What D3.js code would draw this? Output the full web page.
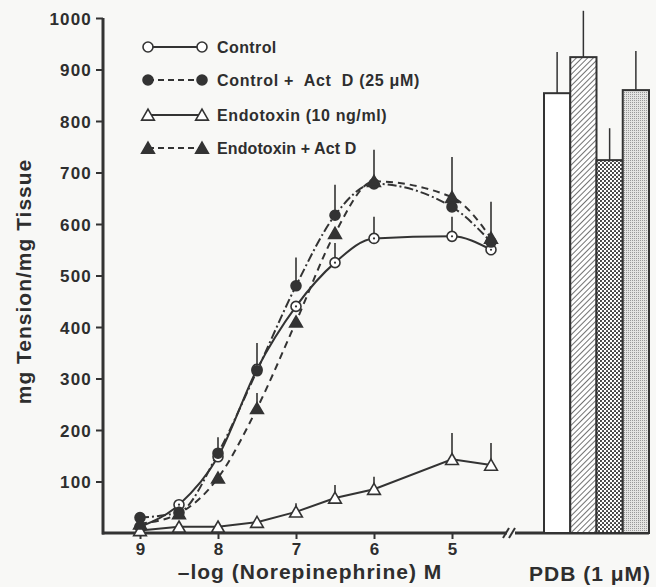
<!DOCTYPE html>
<html>
<head>
<meta charset="utf-8">
<script src="https://cdn.jsdelivr.net/npm/d3@7"></script>
<style>
  body { margin: 0; background: #f8f8f6; }
  svg text { font-family: "Liberation Sans", Arial, sans-serif; font-weight: bold; fill: #2e2e2e; }
</style>
</head>
<body>
<div id="chart"></div>
<script>
// -log [NE] doses
const doses = [9, 8.5, 8, 7.5, 7, 6.5, 6, 5, 4.5];

// mean tension per series, upper error (SEM) per series
const controlVals = [12, 55, 148, 318, 440, 525, 572, 576, 550];
const controlErr = [0, 0, 0, 0, 0, 38, 42, 38, 0];
const controlActDVals = [30, 40, 155, 315, 480, 617, 678, 633, 565];
const controlActDErr = [0, 0, 31, 54, 55, 59, 66, 0, 0];
const endoVals = [5, 12, 12, 21, 41, 68, 85, 143, 132];
const endoErr = [0, 0, 0, 0, 17, 25, 24, 51, 43];
const endoActDVals = [18, 38, 107, 242, 410, 582, 683, 652, 573];
const endoActDErr = [0, 0, 0, 30, 0, 0, 0, 78, 70];

const legendLabels = ["Control", "Control +  Act  D (25 \u03bcM)", "Endotoxin (10 ng/ml)", "Endotoxin + Act D"];

// PDB (1 uM) bars
const pdbGroups = ["control", "controlActD", "endo", "endoActD"];
const pdbVals = [854, 924, 724, 860];
const pdbErr = [80, 90, 62, 76];

const yTicks = [100, 200, 300, 400, 500, 600, 700, 800, 900, 1000];
const xTicks = [9, 8, 7, 6, 5];

const width = 656, height = 587;
const ink = "#333";

const svg = d3.select("#chart").append("svg")
  .attr("width", width)
  .attr("height", height);

const x = d3.scaleLinear().domain([9, 4.5]).range([140, 491]);
const y = d3.scaleLinear().domain([0, 1000]).range([533, 18]);
const xBar = d3.scaleBand().domain(pdbGroups).range([544, 649]).padding(0);

// patterns for the bars
const defs = svg.append("defs");
const hatch = defs.append("pattern").attr("id", "hatch")
  .attr("patternUnits", "userSpaceOnUse").attr("width", 4).attr("height", 4)
  .attr("patternTransform", "rotate(45)");
hatch.append("rect").attr("width", 4).attr("height", 4).attr("fill", "#fff");
hatch.append("line").attr("x1", 0).attr("y1", 0).attr("x2", 0).attr("y2", 4)
  .attr("stroke", "#444").attr("stroke-width", 1.5);

const dots = defs.append("pattern").attr("id", "dots")
  .attr("patternUnits", "userSpaceOnUse").attr("width", 4).attr("height", 4);
dots.append("rect").attr("width", 4).attr("height", 4).attr("fill", "#fff");
dots.append("circle").attr("cx", 1).attr("cy", 1).attr("r", 1.05).attr("fill", "#333");
dots.append("circle").attr("cx", 3).attr("cy", 3).attr("r", 1.05).attr("fill", "#333");

const stipple = defs.append("pattern").attr("id", "stipple")
  .attr("patternUnits", "userSpaceOnUse").attr("width", 2).attr("height", 2);
stipple.append("rect").attr("width", 2).attr("height", 2).attr("fill", "#e4e4e2");
stipple.append("rect").attr("width", 1).attr("height", 1).attr("fill", "#999");

const barFills = ["#fff", "url(#hatch)", "url(#dots)", "url(#stipple)"];

// ----- axes -----
const yAxis = svg.append("g").attr("transform", "translate(103,0)")
  .call(d3.axisLeft(y).tickValues(yTicks).tickFormat(d3.format("d"))
    .tickSize(7).tickSizeOuter(0).tickPadding(4));
yAxis.select(".domain").attr("stroke", ink).attr("stroke-width", 3)
  .attr("d", `M0,${y(1000)}V${y(0) + 1.5}`);
yAxis.selectAll(".tick line").attr("stroke", ink).attr("stroke-width", 2);
yAxis.selectAll(".tick text").style("font-size", "17px").style("letter-spacing", "1.2px").attr("dy", "0.36em");

const xAxis = svg.append("g").attr("transform", `translate(0,${y(0)})`)
  .call(d3.axisBottom(x).tickValues(xTicks).tickFormat(d3.format("d"))
    .tickSize(6).tickSizeOuter(0).tickPadding(4));
xAxis.select(".domain").remove();
xAxis.selectAll(".tick line").attr("stroke", ink).attr("stroke-width", 2);
xAxis.selectAll(".tick text").style("font-size", "17px");

// x axis line with a break before the PDB bars
svg.append("line").attr("x1", 102).attr("x2", 507).attr("y1", y(0)).attr("y2", y(0))
  .attr("stroke", ink).attr("stroke-width", 3);
svg.append("line").attr("x1", 515).attr("x2", 649).attr("y1", y(0)).attr("y2", y(0))
  .attr("stroke", ink).attr("stroke-width", 3);
[506, 512].forEach(bx => {
  svg.append("line").attr("x1", bx - 3).attr("y1", y(0) + 5).attr("x2", bx + 3).attr("y2", y(0) - 5)
    .attr("stroke", ink).attr("stroke-width", 2);
});

// axis titles
svg.append("text")
  .attr("transform", `translate(31,${(y(0) + y(1000)) / 2 + 6}) rotate(-90)`)
  .attr("text-anchor", "middle")
  .style("font-size", "21px").style("letter-spacing", "1px")
  .text("mg Tension/mg Tissue");

svg.append("text")
  .attr("x", 310).attr("y", 579)
  .attr("text-anchor", "middle")
  .style("font-size", "21px").style("letter-spacing", "1px")
  .text("\u2013log (Norepinephrine) M");

svg.append("text")
  .attr("x", 590).attr("y", 581)
  .attr("text-anchor", "middle")
  .style("font-size", "21px").style("letter-spacing", "1px")
  .text("PDB (1 \u03bcM)");

// ----- PDB bars -----
const bars = svg.append("g");
bars.selectAll("line.err").data(pdbGroups).join("line")
  .attr("class", "err")
  .attr("x1", d => xBar(d) + xBar.bandwidth() / 2)
  .attr("x2", d => xBar(d) + xBar.bandwidth() / 2)
  .attr("y1", (d, i) => y(pdbVals[i]))
  .attr("y2", (d, i) => y(pdbVals[i] + pdbErr[i]))
  .attr("stroke", ink).attr("stroke-width", 1.5);
bars.selectAll("rect").data(pdbGroups).join("rect")
  .attr("x", d => xBar(d))
  .attr("y", (d, i) => y(pdbVals[i]))
  .attr("width", xBar.bandwidth())
  .attr("height", (d, i) => y(0) - y(pdbVals[i]))
  .attr("fill", (d, i) => barFills[i])
  .attr("stroke", ink).attr("stroke-width", 2);

// ----- dose-response curves -----
const series = [
  { vals: controlVals, err: controlErr, dash: null, marker: "openCircle", curve: d3.curveMonotoneX },
  { vals: controlActDVals, err: controlActDErr, dash: "9,3,2,3", marker: "filledCircle", curve: d3.curveMonotoneX },
  { vals: endoVals, err: endoErr, dash: null, marker: "openTriangle", curve: d3.curveLinear },
  { vals: endoActDVals, err: endoActDErr, dash: "7,5", marker: "filledTriangle", curve: d3.curveMonotoneX }
];

const triSym = d3.symbol().type(d3.symbolTriangle).size(70);

function drawMarker(g, kind, px, py, legend) {
  if (kind === "openCircle" || kind === "filledCircle") {
    g.append("circle").attr("cx", px).attr("cy", py).attr("r", 5)
      .attr("fill", kind === "openCircle" ? "#fff" : ink)
      .attr("stroke", ink).attr("stroke-width", 1.6);
    if (kind === "openCircle" && !legend) {
      g.append("circle").attr("cx", px).attr("cy", py).attr("r", 1.1).attr("fill", ink);
    }
  } else {
    g.append("path").attr("d", triSym)
      .attr("transform", `translate(${px},${py + 1.5})`)
      .attr("fill", kind === "openTriangle" ? "#fff" : ink)
      .attr("stroke", ink).attr("stroke-width", 1.6).attr("stroke-linejoin", "miter");
  }
}

const plot = svg.append("g");
series.forEach(s => {
  const pts = doses.map((d, i) => [x(d), y(s.vals[i])]);
  plot.append("path")
    .attr("d", d3.line().curve(s.curve)(pts))
    .attr("fill", "none")
    .attr("stroke", ink).attr("stroke-width", 2)
    .attr("stroke-dasharray", s.dash);
});
series.forEach(s => {
  doses.forEach((d, i) => {
    if (s.err[i] > 0) {
      plot.append("line")
        .attr("x1", x(d)).attr("x2", x(d))
        .attr("y1", y(s.vals[i])).attr("y2", y(s.vals[i] + s.err[i]))
        .attr("stroke", ink).attr("stroke-width", 1.6);
    }
  });
});
series.forEach(s => {
  doses.forEach((d, i) => drawMarker(plot, s.marker, x(d), y(s.vals[i]), false));
});

// ----- legend -----
const legendY = [47, 80, 115, 148];
const legendSpacing = [0.4, 0.7, 0.6, 0.1];
const legend = svg.append("g");
series.forEach((s, i) => {
  legend.append("line")
    .attr("x1", 148).attr("x2", 202).attr("y1", legendY[i]).attr("y2", legendY[i])
    .attr("stroke", ink).attr("stroke-width", 1.8)
    .attr("stroke-dasharray", i % 2 === 1 ? "6,4" : null);
  drawMarker(legend, s.marker, 148, legendY[i], true);
  drawMarker(legend, s.marker, 202, legendY[i], true);
  legend.append("text")
    .attr("x", 217).attr("y", legendY[i] + 6)
    .style("font-size", "16px")
    .style("white-space", "pre")
    .style("letter-spacing", legendSpacing[i] + "px")
    .text(legendLabels[i]);
});
</script>
</body>
</html>
